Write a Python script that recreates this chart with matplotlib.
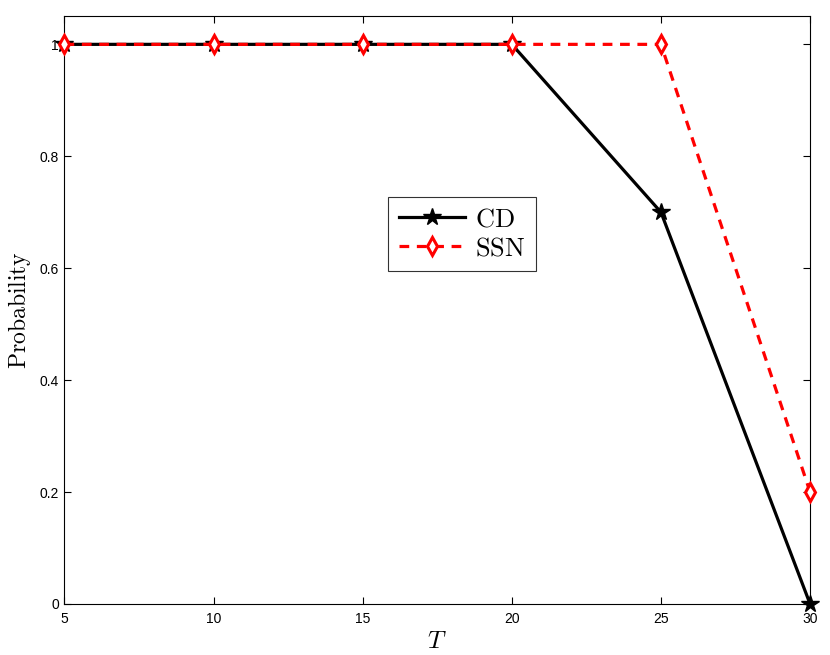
import matplotlib
matplotlib.use("Agg")
import matplotlib.pyplot as plt

T = [5, 10, 15, 20, 25, 30]
cd = [1, 1, 1, 1, 0.7, 0]
ssn = [1, 1, 1, 1, 1, 0.2]
xticks = [5, 10, 15, 20, 25, 30]
yticks = [0, 0.2, 0.4, 0.6, 0.8, 1]
yticklabels = ["0", "0.2", "0.4", "0.6", "0.8", "1"]

plt.rcParams['mathtext.fontset'] = 'cm'
plt.rcParams['font.family'] = ['Liberation Sans', 'DejaVu Sans']
plt.rcParams['lines.scale_dashes'] = False

fig = plt.figure(figsize=(8.3, 6.55), dpi=100)
ax = fig.add_axes([0.0777, 0.0779, 0.8983, 0.8971])

ax.plot(T, cd, '-', color='black', lw=2.3, marker='*', ms=13, mfc='black', mec='black',
        label=r'$\mathrm{CD}$', clip_on=False, zorder=3)
ax.plot(T, ssn, '--', color='red', lw=2.3, marker='d', ms=9, mfc='white', mec='red', mew=2.2,
        label=r'$\mathrm{SSN}$', dashes=(7, 5.5), clip_on=False, zorder=4)

ax.set_xlim(5, 30)
ax.set_ylim(0, 1.05)
ax.set_xticks(xticks)
ax.set_xticklabels([str(v) for v in xticks])
ax.set_yticks(yticks)
ax.set_yticklabels(yticklabels)
ax.tick_params(direction='in', top=True, right=True, labelsize=10, length=5, width=0.8)
ax.tick_params(axis='x', pad=6)
ax.tick_params(axis='y', pad=4)
for s in ax.spines.values():
    s.set_linewidth(0.8)

ax.set_xlabel(r'$T$', fontsize=18, labelpad=2)
ax.set_ylabel(r'$\mathrm{Probability}$', fontsize=17, labelpad=5)

leg = ax.legend(loc='upper left', bbox_to_anchor=(0.434, 0.693), fontsize=19, frameon=True, fancybox=False,
                edgecolor='black', handlelength=2.5, borderpad=0.4, labelspacing=0.2, handletextpad=0.4,
                borderaxespad=0)
leg.get_frame().set_linewidth(0.8)

fig.savefig('out.png', dpi=100)
